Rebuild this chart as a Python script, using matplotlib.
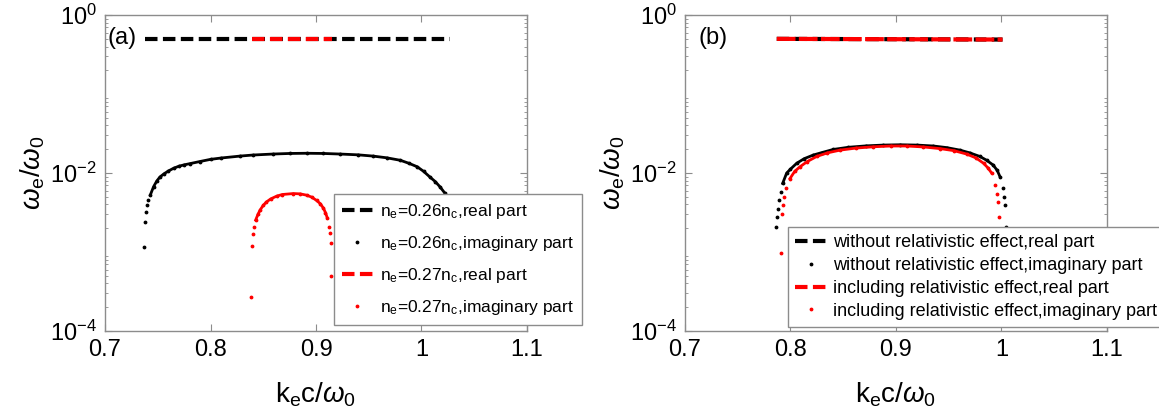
import matplotlib
matplotlib.use("Agg")
import matplotlib.pyplot as plt
from matplotlib.ticker import LogLocator, FixedLocator, FixedFormatter, NullFormatter

plt.rcParams['font.family'] = ['Liberation Sans', 'DejaVu Sans']
plt.rcParams['mathtext.fontset'] = 'custom'
plt.rcParams['mathtext.rm'] = 'Liberation Sans'
plt.rcParams['mathtext.it'] = 'Liberation Sans:italic'
plt.rcParams['mathtext.bf'] = 'Liberation Sans:bold'

# ---------------------------------------------------------------------------
# Data (k_e c / w_0 , w_e / w_0)
# panel (a): two electron densities
a_re26_k = [0.738, 0.80, 0.90, 1.027]
a_re26_w = [0.50, 0.50, 0.50, 0.50]
a_im26_k = [0.737, 0.738, 0.739, 0.740, 0.741, 0.743, 0.746, 0.749, 0.752,
            0.756, 0.760, 0.765, 0.770, 0.775, 0.781, 0.790, 0.800, 0.810,
            0.828, 0.840, 0.859, 0.875, 0.891, 0.907, 0.923, 0.940, 0.954,
            0.967, 0.980, 0.988, 0.996, 1.002, 1.008, 1.013, 1.0175, 1.022,
            1.025, 1.026, 1.027]
a_im26_g = [1.15e-3, 2.4e-3, 3.2e-3, 3.9e-3, 4.5e-3, 5.3e-3, 6.7e-3, 7.9e-3,
            8.9e-3, 9.8e-3, 1.06e-2, 1.15e-2, 1.22e-2, 1.27e-2, 1.32e-2,
            1.40e-2, 1.49e-2, 1.55e-2, 1.64e-2, 1.69e-2, 1.74e-2, 1.77e-2,
            1.78e-2, 1.77e-2, 1.74e-2, 1.70e-2, 1.64e-2, 1.56e-2, 1.45e-2,
            1.33e-2, 1.2e-2, 1.05e-2, 8.9e-3, 7.8e-3, 6.7e-3, 5.6e-3, 4.5e-3,
            3.2e-3, 1.8e-3]

a_re27_k = [0.839, 0.88, 0.915]
a_re27_w = [0.50, 0.50, 0.50]
a_im27_k = [0.8384, 0.8390, 0.8400, 0.8412, 0.8428, 0.845, 0.847, 0.850,
            0.853, 0.857, 0.8627, 0.868, 0.8785, 0.885, 0.891, 0.896, 0.9005,
            0.904, 0.907, 0.909, 0.9107, 0.9123, 0.9133, 0.9140, 0.9146]
a_im27_g = [2.7e-4, 1.2e-3, 1.7e-3, 2.1e-3, 2.54e-3, 3.0e-3, 3.4e-3, 3.9e-3,
            4.3e-3, 4.7e-3, 5.1e-3, 5.35e-3, 5.5e-3, 5.45e-3, 5.25e-3, 4.95e-3,
            4.5e-3, 4.1e-3, 3.6e-3, 3.15e-3, 2.7e-3, 2.1e-3, 1.74e-3, 1.31e-3,
            5.0e-4]

# panel (b): with / without relativistic effect
b_re_k = [0.787, 0.90, 1.001]
b_re_w = [0.50, 0.495, 0.49]
b_im_no_k = [0.7863, 0.7875, 0.7885, 0.7895, 0.7907, 0.7926, 0.7964, 0.800,
             0.8059, 0.813, 0.8216, 0.830, 0.8406, 0.855, 0.872, 0.888, 0.9038,
             0.920, 0.9354, 0.948, 0.9607, 0.970, 0.9796, 0.986, 0.9922, 0.996,
             0.9986, 1.0011, 1.0024, 1.0033, 1.0043, 1.0071]
b_im_no_g = [2.05e-3, 2.75e-3, 3.55e-3, 4.55e-3, 5.8e-3, 7.4e-3, 1.0e-2,
             1.12e-2, 1.33e-2, 1.52e-2, 1.69e-2, 1.82e-2, 1.99e-2, 2.12e-2,
             2.21e-2, 2.26e-2, 2.28e-2, 2.26e-2, 2.2e-2, 2.1e-2, 1.95e-2,
             1.8e-2, 1.62e-2, 1.45e-2, 1.26e-2, 1.08e-2, 9.0e-3, 6.4e-3,
             5.0e-3, 3.9e-3, 2.1e-3, 1.0e-3]
b_im_rel_k = [0.7907, 0.7916, 0.7925, 0.7938, 0.7957, 0.7995, 0.804, 0.809,
              0.816, 0.8248, 0.835, 0.847, 0.862, 0.8786, 0.895, 0.9101, 0.926,
              0.9417, 0.955, 0.967, 0.976, 0.983, 0.987, 0.9907, 0.9938,
              0.9954, 0.9963, 0.9976, 0.9985]
b_im_rel_g = [9.6e-4, 3.0e-3, 3.9e-3, 5.0e-3, 6.4e-3, 8.5e-3, 1.05e-2,
              1.2e-2, 1.4e-2, 1.62e-2, 1.8e-2, 1.95e-2, 2.07e-2, 2.15e-2,
              2.2e-2, 2.2e-2, 2.14e-2, 2.04e-2, 1.92e-2, 1.74e-2, 1.55e-2,
              1.33e-2, 1.17e-2, 1.0e-2, 7.0e-3, 5.5e-3, 4.3e-3, 2.8e-3, 1.0e-3]

x_ticks = [0.7, 0.8, 0.9, 1.0, 1.1]
x_tick_labels = ['0.7', '0.8', '0.9', '1', '1.1']

labels_a = [r'n$_{\rm e}$=0.26n$_{\rm c}$,real part',
            r'n$_{\rm e}$=0.26n$_{\rm c}$,imaginary part',
            r'n$_{\rm e}$=0.27n$_{\rm c}$,real part',
            r'n$_{\rm e}$=0.27n$_{\rm c}$,imaginary part']
labels_b = ['without relativistic effect,real part',
            'without relativistic effect,imaginary part',
            'including relativistic effect,real part',
            'including relativistic effect,imaginary part']
# ---------------------------------------------------------------------------

GRAY = '#8c8c8c'
RED = '#ff0000'
DASH = (3, 1.3)


def style_axes(ax, tag, tag_x):
    ax.set_yscale('log')
    ax.set_xlim(0.7, 1.1)
    ax.set_ylim(1e-4, 1)
    ax.xaxis.set_major_locator(FixedLocator(x_ticks))
    ax.xaxis.set_major_formatter(FixedFormatter(x_tick_labels))
    ax.yaxis.set_major_locator(FixedLocator([1e-4, 1e-2, 1]))
    ax.yaxis.set_minor_locator(LogLocator(base=10, subs=range(2, 10), numticks=20))
    ax.yaxis.set_minor_formatter(NullFormatter())
    for s in ax.spines.values():
        s.set_color(GRAY)
        s.set_linewidth(1.0)
    ax.tick_params(which='both', direction='in', top=True, right=True,
                   color=GRAY, labelcolor='k', labelsize=17)
    ax.tick_params(which='major', length=5, width=0.8, pad=6)
    ax.tick_params(which='minor', length=2.5, width=0.6)
    ax.set_xlabel(r'k$_{\rm e}$c/$\omega_0$', fontsize=20, labelpad=14)
    ax.set_ylabel(r'$\omega_{\rm e}/\omega_0$', fontsize=20, labelpad=2)
    ax.text(tag_x, 0.927, tag, transform=ax.transAxes, fontsize=17,
            va='center', ha='left')


fig = plt.figure(figsize=(11.59, 4.19), dpi=100)
ax_a = fig.add_axes([0.0906, 0.21, 0.3641, 0.754])
ax_b = fig.add_axes([0.5910, 0.21, 0.3641, 0.754])

# ---- panel (a)
ax_a.plot(a_re26_k, a_re26_w, color='k', lw=3, dashes=DASH, label=labels_a[0])
ax_a.plot(a_im26_k[5:-3], a_im26_g[5:-3], color='k', lw=2)
ax_a.plot(a_im26_k, a_im26_g, 'k.', ms=3.5, label=labels_a[1])
ax_a.plot(a_re27_k, a_re27_w, color=RED, lw=3, dashes=DASH, label=labels_a[2])
ax_a.plot(a_im27_k[4:-4], a_im27_g[4:-4], color=RED, lw=2)
ax_a.plot(a_im27_k, a_im27_g, '.', color=RED, ms=3.5, label=labels_a[3])
style_axes(ax_a, '(a)', 0.007)
ax_a.legend(loc='upper left', bbox_to_anchor=(0.5427, 0.4335), fontsize=12.5,
            frameon=True, fancybox=False, edgecolor=GRAY, framealpha=1,
            handlelength=1.8, handletextpad=0.4, labelspacing=0.75,
            borderpad=0.45, borderaxespad=0)

# ---- panel (b)
ax_b.plot(b_re_k, b_re_w, color='k', lw=3, dashes=DASH, label=labels_b[0])
ax_b.plot(b_im_no_k[5:-5], b_im_no_g[5:-5], color='k', lw=2)
ax_b.plot(b_im_no_k, b_im_no_g, 'k.', ms=3.5, label=labels_b[1])
ax_b.plot(b_re_k, b_re_w, color=RED, lw=3, dashes=(4.5, 0.8), label=labels_b[2])
ax_b.plot(b_im_rel_k[5:-5], b_im_rel_g[5:-5], color=RED, lw=2)
ax_b.plot(b_im_rel_k, b_im_rel_g, '.', color=RED, ms=3.5, label=labels_b[3])
style_axes(ax_b, '(b)', 0.031)
leg_b = ax_b.legend(loc='upper left', bbox_to_anchor=(0.244, 0.329), fontsize=13,
                    frameon=True, fancybox=False, edgecolor=GRAY, framealpha=1,
                    handlelength=1.7, handletextpad=0.4, labelspacing=0.32,
                    borderpad=0.4, borderaxespad=0)
leg_b.get_lines()[2].set_dashes(DASH)

fig.savefig('out.png', dpi=100)
